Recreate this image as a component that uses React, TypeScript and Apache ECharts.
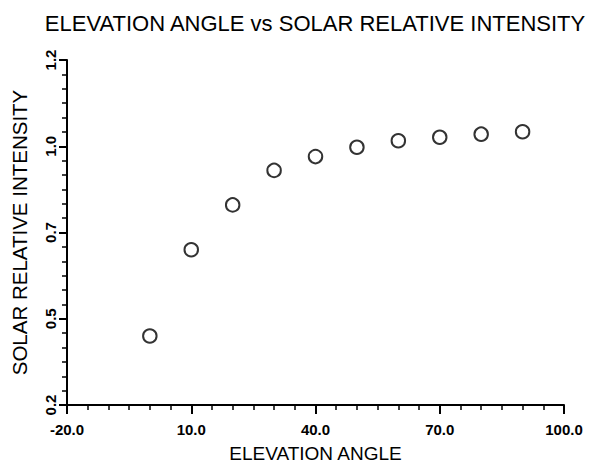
import React, { useEffect, useRef } from "react";
import * as echarts from "echarts";

// Data
const elevationAngles = [0, 10, 20, 30, 40, 50, 60, 70, 80, 90];
const solarIntensity = [0.4, 0.65, 0.78, 0.88, 0.92, 0.947, 0.966, 0.976, 0.985, 0.992];

// Axis ranges
const X_MIN = -20;
const X_MAX = 100;
const X_STEP = 30;
const Y_MIN = 0.2;
const Y_MAX = 1.2;
const Y_STEP = 0.25;

const TITLE = "ELEVATION ANGLE vs SOLAR RELATIVE INTENSITY";
const X_NAME = "ELEVATION ANGLE";
const Y_NAME = "SOLAR RELATIVE INTENSITY";

const FONT = "'Liberation Sans', Arial, sans-serif";

export default function App() {
  const ref = useRef<HTMLDivElement>(null);

  useEffect(() => {
    document.body.style.margin = "0";
    if (!ref.current) return;
    const chart = echarts.init(ref.current, undefined, { renderer: "svg" });

    // axes are offset so that min is 0 (a multiple of the interval)
    const points = elevationAngles.map((x, i) => [x - X_MIN, solarIntensity[i] - Y_MIN]);

    chart.setOption({
      animation: false,
      backgroundColor: "#ffffff",
      title: {
        text: TITLE,
        left: 310,
        textAlign: "center",
        top: 7,
        textStyle: { fontFamily: FONT, fontSize: 22, fontWeight: "normal", color: "#000" },
      },
      grid: { left: 67, right: 32, top: 60, bottom: 61, containLabel: false, outerBoundsMode: "none" },
      xAxis: {
        type: "value",
        min: 0,
        max: X_MAX - X_MIN,
        interval: X_STEP,
        name: X_NAME,
        nameLocation: "middle",
        nameGap: 39,
        nameTextStyle: { fontFamily: FONT, fontSize: 19, color: "#000" },
        axisLine: { show: true, lineStyle: { color: "#000", width: 2 } },
        axisTick: { show: true, inside: false, length: 9, lineStyle: { color: "#000", width: 2 } },
        minorTick: { show: true, splitNumber: 6, length: 5, lineStyle: { color: "#000", width: 1.5 } },
        splitLine: { show: false },
        minorSplitLine: { show: false },
        axisLabel: {
          margin: 17,
          fontFamily: FONT,
          fontSize: 15,
          fontWeight: "bold",
          color: "#000",
          formatter: (v: number) => (v + X_MIN).toFixed(1),
        },
      },
      yAxis: {
        type: "value",
        min: 0,
        max: Y_MAX - Y_MIN,
        interval: Y_STEP,
        name: Y_NAME,
        nameLocation: "middle",
        nameGap: 37,
        nameRotate: 90,
        nameTextStyle: { fontFamily: FONT, fontSize: 20.5, color: "#000" },
        axisLine: { show: true, lineStyle: { color: "#000", width: 2 } },
        axisTick: { show: true, inside: false, length: 8, lineStyle: { color: "#000", width: 2 } },
        minorTick: { show: true, splitNumber: 6, length: 5, lineStyle: { color: "#000", width: 1.5 } },
        splitLine: { show: false },
        minorSplitLine: { show: false },
        axisLabel: {
          rotate: 90,
          margin: 9,
          fontFamily: FONT,
          fontSize: 15,
          fontWeight: "bold",
          color: "#000",
          formatter: (v: number) => (v + Y_MIN + 1e-9).toFixed(1),
        },
      },
      series: [
        {
          type: "scatter",
          data: points,
          symbol: "emptyCircle",
          symbolSize: 13.5,
          itemStyle: { color: "#000", borderColor: "#000", borderWidth: 2.3 },
        },
      ],
    });

    return () => chart.dispose();
  }, []);

  return <div ref={ref} style={{ width: 596, height: 466 }} />;
}
